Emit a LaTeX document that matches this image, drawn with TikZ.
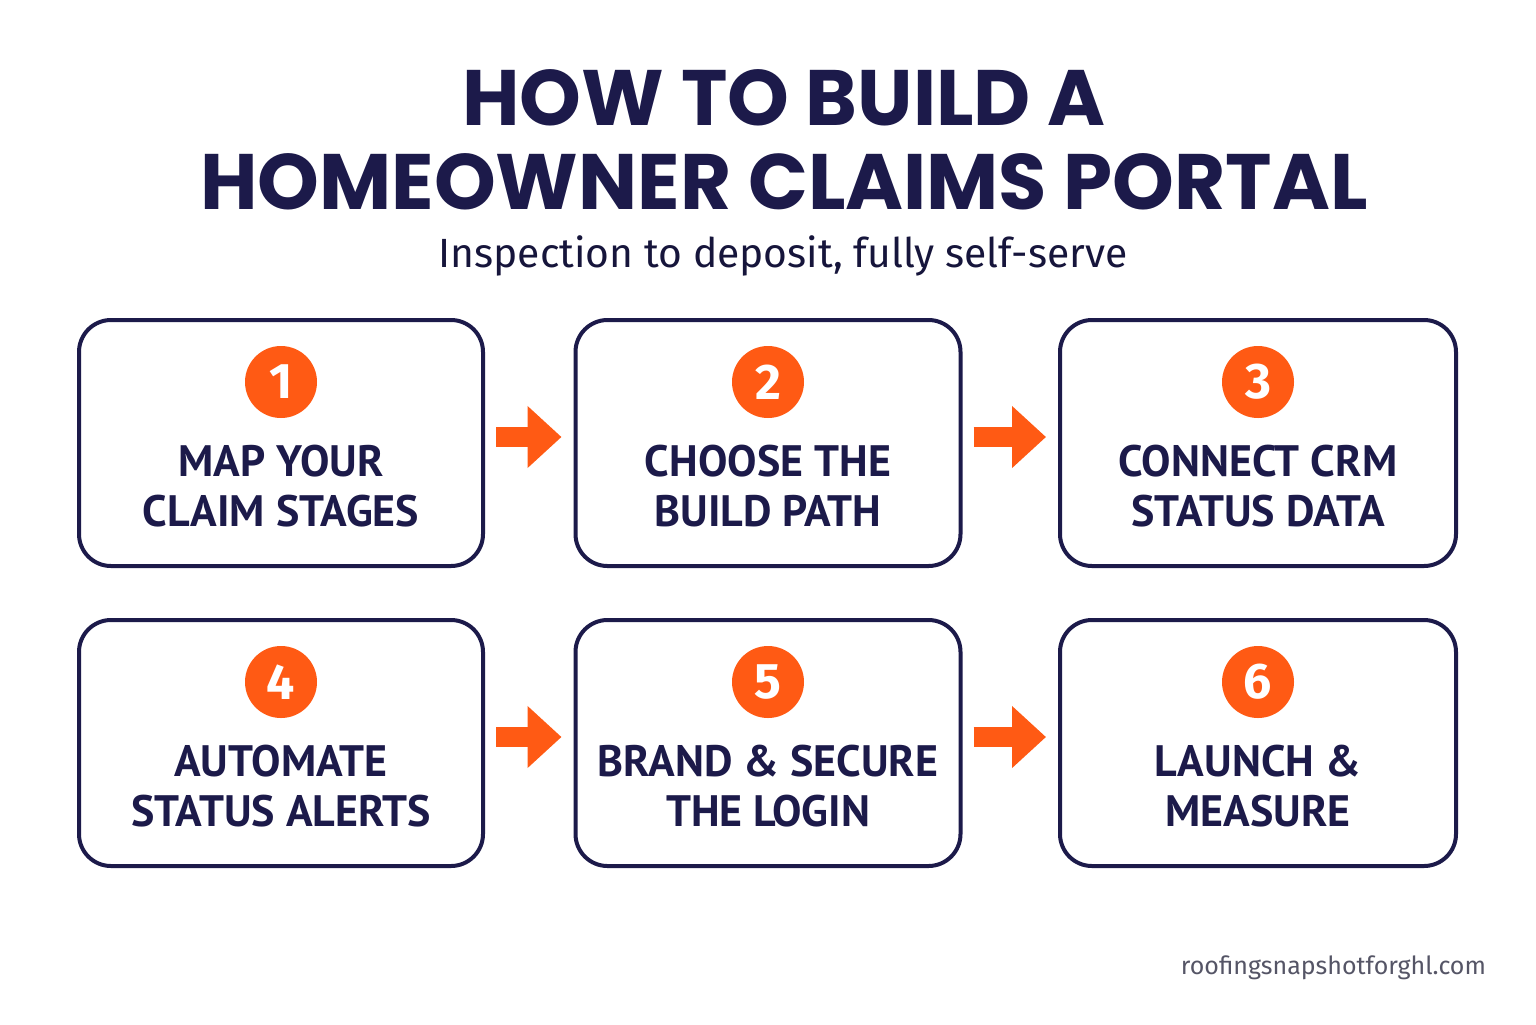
\documentclass[tikz,border=0pt]{standalone}
\usepackage{fontspec}
\setmainfont{Fira Sans}
\newfontfamily\titlef{Poppins}
\newfontfamily\boxf{PT Sans}
\usetikzlibrary{arrows.meta,calc}
\definecolor{navy}{HTML}{1C1A4A}
\definecolor{org}{HTML}{FF5A14}
\definecolor{gr}{HTML}{555566}
\begin{document}
\begin{tikzpicture}[x=0.5pt,y=-0.5pt,
 box/.style={draw=navy,line width=2pt,rounded corners=16pt,minimum width=202pt,minimum height=123pt,fill=white},
 num/.style={circle,fill=org,minimum size=36pt,inner sep=0pt,text=white,font=\fontsize{25}{25}\selectfont\bfseries},
 lab/.style={text=navy,align=center,font=\boxf\fontsize{22}{25}\selectfont\bfseries},
 arr/.style={org,line width=10pt,-{Triangle[length=17pt,width=30pt]}}]
\useasboundingbox[fill=white] (0,0) rectangle (1536,1024);
\node[text=navy,align=center,font=\titlef\fontsize{39.3}{42}\selectfont\bfseries] (t) at (784,140) {HOW TO BUILD A\\HOMEOWNER CLAIMS PORTAL};
\node[text=navy!80!black,font=\fontsize{20.4}{20}\selectfont] (s) at (783,256) {Inspection to deposit, fully self-serve};
\foreach \i/\x/\y/\w/\t in {1/281/443/404/{MAP YOUR\\CLAIM STAGES},2/768/443/385/{CHOOSE THE\\BUILD PATH},3/1258/443/396/{CONNECT CRM\\STATUS DATA},4/281/743/404/{AUTOMATE\\STATUS ALERTS},5/768/743/385/{BRAND \& SECURE\\THE LOGIN},6/1258/743/396/{LAUNCH \&\\MEASURE}}{
 \node[box,minimum width=\w*0.5pt] (b\i) at (\x,\y) {};
 \node[num] (n\i) at ($(b\i.north)+(0,64)$) {\i};
 \node[lab] (l\i) at ($(b\i.north)+(0,168)$) {\t};
}
\foreach \a/\b in {1/2,2/3,4/5,5/6}{
 \draw[arr] ($(b\a.east)+(11,-6)$) -- ($(b\b.west)+(-12,-6)$);
}
\node[text=gr,anchor=east,font=\fontsize{12.5}{12}\selectfont] (f) at (1493,968) {roofingsnapshotforghl.com};
\end{tikzpicture}
\end{document}
